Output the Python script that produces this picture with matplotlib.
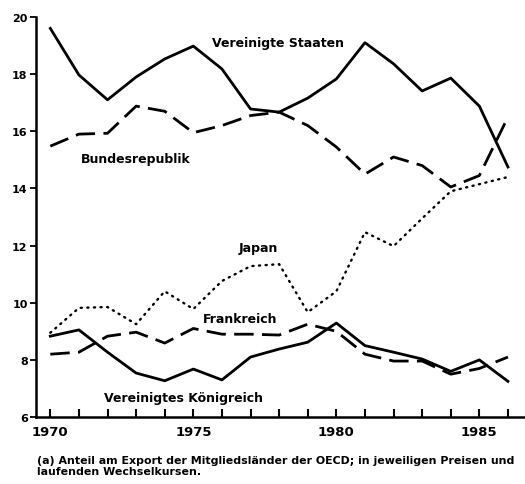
import numpy as np
import matplotlib
matplotlib.use("Agg")
import matplotlib.pyplot as plt

# Anteil am OECD-Export in %, 1970-1986
years = np.arange(1970, 1987)
usa = [19.6, 17.97, 17.1, 17.9, 18.53, 18.98, 18.18, 16.78, 16.67, 17.16, 17.83, 19.1, 18.36, 17.41, 17.86, 16.88, 14.75]
brd = [15.48, 15.9, 15.93, 16.88, 16.7, 15.95, 16.2, 16.55, 16.67, 16.2, 15.45, 14.5, 15.1, 14.8, 14.05, 14.45, 16.5]
japan = [8.95, 9.82, 9.85, 9.25, 10.4, 9.78, 10.76, 11.28, 11.35, 9.67, 10.4, 12.47, 11.98, 12.95, 13.9, 14.15, 14.4]
frankreich = [8.2, 8.27, 8.83, 8.97, 8.59, 9.1, 8.9, 8.9, 8.87, 9.25, 9.0, 8.2, 7.96, 7.96, 7.5, 7.7, 8.1]
uk = [8.83, 9.05, 8.27, 7.54, 7.27, 7.68, 7.3, 8.1, 8.38, 8.62, 9.29, 8.5, 8.27, 8.03, 7.6, 8.0, 7.25]

labels = ["Vereinigte Staaten", "Bundesrepublik", "Japan", "Frankreich", "Vereinigtes Königreich"]
label_pos = [(1977.97, 19.09), (1973.0, 15.03), (1977.27, 11.95), (1976.64, 9.46), (1974.65, 6.7)]
yticks = [6, 8, 10, 12, 14, 16, 18, 20]
xticks = [1970, 1975, 1980, 1985]
caption = ("(a) Anteil am Export der Mitgliedsländer der OECD; in jeweiligen Preisen und\n"
           "laufenden Wechselkursen.")

plt.rcParams['font.family'] = ['DejaVu Sans']

fig = plt.figure(figsize=(5.25, 4.85), dpi=100)
ax = fig.add_axes([0.0686, 0.138, 0.93, 0.825])

lw = 2.0
ax.plot(years, usa, color="black", lw=lw)
ax.plot(years, brd, color="black", lw=lw, dashes=(7, 3))
ax.plot(years, japan, color="black", lw=1.7, dashes=(0.5, 2.3), dash_capstyle="round")
ax.plot(years, frankreich, color="black", lw=lw, dashes=(7, 3))
ax.plot(years, uk, color="black", lw=lw)

for txt, (x, y) in zip(labels, label_pos):
    ax.text(x, y, txt, ha="center", va="center", fontsize=9, fontweight="bold")

ax.set_xlim(1969.5, 1986.57)
ax.set_ylim(6, 20)
ax.spines["top"].set_visible(False)
ax.spines["right"].set_visible(False)
ax.spines["left"].set_linewidth(1.8)
ax.spines["bottom"].set_linewidth(1.8)

ax.set_yticks(yticks)
ax.set_yticklabels([str(v) for v in yticks], fontsize=8, fontweight="bold")
ax.set_xticks(xticks)
ax.set_xticklabels([str(v) for v in xticks], fontsize=9.5, fontweight="bold")
ax.set_xticks(years, minor=True)
ax.tick_params(axis="x", which="both", direction="in", length=6, width=1.5, pad=6)
ax.tick_params(axis="y", direction="out", length=4, width=1.3, pad=2)

fig.text(0.07, 0.06, caption, fontsize=7.9, fontweight="bold", ha="left", va="top",
         linespacing=1.1)

fig.savefig("out.png", dpi=100)
